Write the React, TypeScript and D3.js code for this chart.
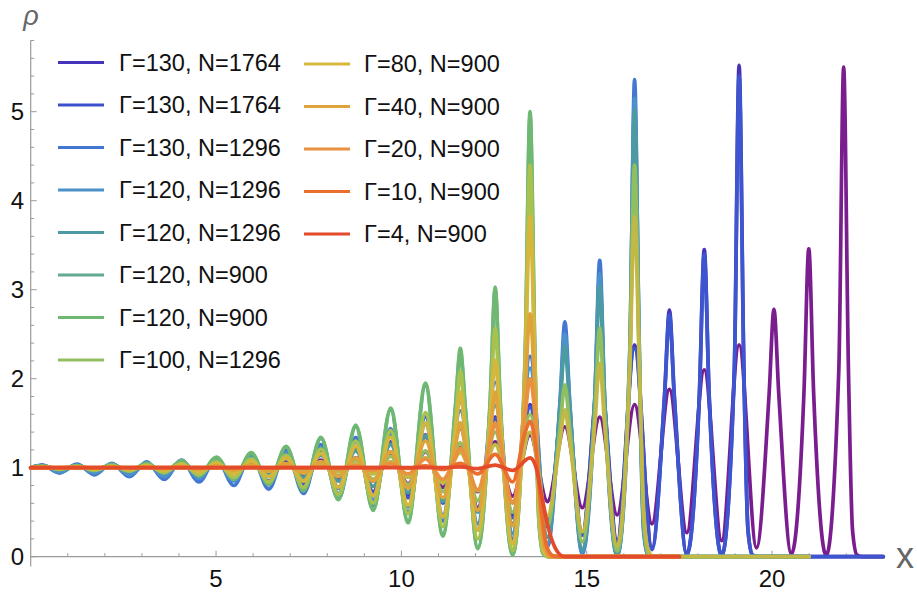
import React from "react";
import * as d3 from "d3";

// ---- shared lattice positions (x of density peaks and troughs) ----
const PEAK_X = [0.31, 1.25, 2.19, 3.13, 4.07, 5.01, 5.95, 6.89, 7.83, 8.77, 9.71, 10.65, 11.59, 12.53, 13.47, 14.41, 15.35, 16.29, 17.23, 18.17, 19.11, 20.05, 20.99, 21.93];
const TROUGH_X = [0.78, 1.72, 2.66, 3.6, 4.54, 5.48, 6.42, 7.36, 8.3, 9.24, 10.18, 11.12, 12.06, 13.0, 13.94, 14.88, 15.82, 16.76, 17.7, 18.64, 19.58, 20.52, 21.46];
const SHOULDER_DX = 0.13;
const START_RHO = 1.0;

// ---- axis ticks ----
const X_MAJOR = [5, 10, 15, 20];
const X_MINOR = [1, 2, 3, 4, 6, 7, 8, 9, 11, 12, 13, 14, 16, 17, 18, 19, 21, 22];
const Y_MAJOR = [0, 1, 2, 3, 4, 5];
const Y_MINOR = [0.2, 0.4, 0.6, 0.8, 1.2, 1.4, 1.6, 1.8, 2.2, 2.4, 2.6, 2.8, 3.2, 3.4, 3.6, 3.8, 4.2, 4.4, 4.6, 4.8, 5.2, 5.4, 5.6, 5.8];

// ---- series (peaks/troughs/shoulders counted back from the edge peak, k = 0 at the edge) ----
type Series = {
  color: string;
  edge: number;
  end: number;
  peaks: number[];
  troughs: number[];
  shoulders: number[];
  tail: [number, number][];
};

const purpleWide: Series = {
  color: "#7A1D8E", edge: 23, end: 23,
  peaks: [5.5, 3.46, 2.78, 2.38, 2.1, 1.88, 1.71, 1.57, 1.46, 1.37, 1.29, 1.23, 1.18, 1.14, 1.11, 1.085, 1.065, 1.05, 1.04, 1.032, 1.026, 1.02, 1.016, 1.012],
  troughs: [0.01, 0.03, 0.1, 0.18, 0.27, 0.37, 0.47, 0.55, 0.62, 0.68, 0.73, 0.78, 0.82, 0.85, 0.88, 0.9, 0.92, 0.94, 0.95, 0.96, 0.97, 0.975, 0.98],
  shoulders: [2.1, 1.85, 1.83],
  tail: [[0.13, 2.1], [0.24, 0.3], [0.36, 0.02], [0.5, 0]],
};
const g130n1764a: Series = {
  color: "#4834B8", edge: 20, end: 23,
  peaks: [5.52, 3.45, 2.77, 2.38, 2.1, 1.88, 1.71, 1.57, 1.46, 1.37, 1.29, 1.23, 1.18, 1.14, 1.11, 1.085, 1.065, 1.05, 1.04, 1.032, 1.026],
  troughs: [0.01, 0.03, 0.1, 0.18, 0.27, 0.37, 0.47, 0.55, 0.62, 0.68, 0.73, 0.78, 0.82, 0.85, 0.88, 0.9, 0.92, 0.94, 0.95, 0.96],
  shoulders: [2.1, 1.85, 1.83],
  tail: [[0.13, 2.1], [0.24, 0.3], [0.36, 0.02], [0.5, 0]],
};
const g130n1764b: Series = {
  color: "#3D56CF", edge: 20, end: 23,
  peaks: [5.4, 3.4, 2.72, 2.34, 2.07, 1.85, 1.68, 1.55, 1.44, 1.35, 1.28, 1.22, 1.17, 1.13, 1.1, 1.08, 1.06, 1.047, 1.037, 1.03, 1.024],
  troughs: [0.01, 0.02, 0.08, 0.15, 0.24, 0.34, 0.44, 0.53, 0.6, 0.66, 0.72, 0.77, 0.81, 0.84, 0.87, 0.9, 0.92, 0.935, 0.95, 0.96],
  shoulders: [2.05, 1.82, 1.8],
  tail: [[0.13, 2.05], [0.24, 0.3], [0.36, 0.02], [0.5, 0]],
};
const g130n1296: Series = {
  color: "#4477D2", edge: 17, end: 21,
  peaks: [5.36, 3.33, 2.64, 2.25, 1.96, 1.74, 1.57, 1.44, 1.34, 1.26, 1.2, 1.15, 1.11, 1.085, 1.065, 1.05, 1.04, 1.03],
  troughs: [0.01, 0.03, 0.11, 0.2, 0.3, 0.4, 0.5, 0.58, 0.65, 0.71, 0.76, 0.8, 0.84, 0.87, 0.9, 0.92, 0.94],
  shoulders: [2.1, 1.8, 1.75],
  tail: [[0.13, 2.1], [0.24, 0.3], [0.36, 0.02], [0.5, 0]],
};
const g120n1296a: Series = {
  color: "#4A92C9", edge: 17, end: 21,
  peaks: [5.15, 3.18, 2.5, 2.12, 1.84, 1.64, 1.49, 1.38, 1.29, 1.22, 1.16, 1.12, 1.09, 1.07, 1.05, 1.04, 1.03, 1.025],
  troughs: [0.01, 0.05, 0.15, 0.26, 0.37, 0.47, 0.56, 0.64, 0.71, 0.77, 0.81, 0.85, 0.88, 0.9, 0.92, 0.94, 0.95],
  shoulders: [2.3, 1.8, 1.72],
  tail: [[0.13, 2.3], [0.24, 0.35], [0.36, 0.03], [0.5, 0]],
};
const g120n1296b: Series = {
  color: "#4D9BA2", edge: 17, end: 21,
  peaks: [5.02, 3.04, 2.36, 1.98, 1.7, 1.5, 1.36, 1.26, 1.19, 1.14, 1.1, 1.07, 1.05, 1.035, 1.025, 1.02, 1.015, 1.012],
  troughs: [0.01, 0.08, 0.22, 0.37, 0.5, 0.62, 0.72, 0.79, 0.85, 0.89, 0.92, 0.94, 0.955, 0.965, 0.975, 0.98, 0.985],
  shoulders: [2.3, 1.8, 1.68],
  tail: [[0.13, 2.3], [0.24, 0.4], [0.36, 0.03], [0.5, 0]],
};
const g120n900a: Series = {
  color: "#62AB92", edge: 14, end: 17.5,
  peaks: [4.95, 3.0, 2.3, 1.92, 1.65, 1.46, 1.33, 1.23, 1.16, 1.11, 1.075, 1.05, 1.035, 1.025, 1.02],
  troughs: [0.02, 0.1, 0.25, 0.4, 0.53, 0.65, 0.75, 0.82, 0.87, 0.91, 0.94, 0.96, 0.97, 0.98],
  shoulders: [2.25, 1.78, 1.68],
  tail: [[0.13, 2.25], [0.24, 0.4], [0.36, 0.03], [0.5, 0]],
};
const g120n900b: Series = {
  color: "#6FB872", edge: 14, end: 17.5,
  peaks: [5.0, 3.03, 2.34, 1.95, 1.67, 1.48, 1.34, 1.24, 1.17, 1.12, 1.08, 1.05, 1.035, 1.025, 1.02],
  troughs: [0.02, 0.09, 0.23, 0.38, 0.52, 0.64, 0.74, 0.81, 0.87, 0.91, 0.94, 0.96, 0.97, 0.98],
  shoulders: [2.3, 1.8, 1.7],
  tail: [[0.13, 2.3], [0.24, 0.4], [0.36, 0.03], [0.5, 0]],
};
const g100n1296: Series = {
  color: "#92BE62", edge: 17, end: 21,
  peaks: [4.4, 2.57, 1.93, 1.6, 1.4, 1.28, 1.19, 1.13, 1.09, 1.06, 1.04, 1.03, 1.02, 1.015, 1.01, 1.008, 1.005, 1.004],
  troughs: [0.06, 0.17, 0.35, 0.5, 0.63, 0.73, 0.81, 0.87, 0.91, 0.94, 0.96, 0.97, 0.98, 0.985, 0.99, 0.993, 0.995],
  shoulders: [2.2, 1.6, 1.45],
  tail: [[0.13, 2.2], [0.24, 0.45], [0.36, 0.05], [0.5, 0]],
};
const g80n1296: Series = {
  color: "#C2B846", edge: 17, end: 21,
  peaks: [3.82, 2.17, 1.65, 1.4, 1.26, 1.17, 1.11, 1.07, 1.045, 1.03, 1.02, 1.013, 1.009, 1.006, 1.004, 1.003, 1.002, 1.0],
  troughs: [0.12, 0.28, 0.46, 0.62, 0.74, 0.83, 0.89, 0.93, 0.955, 0.97, 0.98, 0.987, 0.992, 0.995, 0.997, 0.998, 0.999],
  shoulders: [2.1, 1.5, 1.3],
  tail: [[0.13, 2.1], [0.25, 0.5], [0.38, 0.06], [0.52, 0]],
};
const g100n900: Series = {
  color: "#A9C24F", edge: 14, end: 17.5,
  peaks: [4.4, 2.57, 2.08, 1.62, 1.42, 1.3, 1.21, 1.14, 1.1, 1.065, 1.045, 1.03, 1.02, 1.015, 1.01],
  troughs: [0.07, 0.2, 0.34, 0.48, 0.6, 0.7, 0.78, 0.84, 0.89, 0.92, 0.95, 0.965, 0.975, 0.985],
  shoulders: [2.2, 1.65, 1.5],
  tail: [[0.13, 2.2], [0.24, 0.45], [0.36, 0.05], [0.5, 0]],
};
const g80n900: Series = {
  color: "#D5B73E", edge: 14, end: 17.5,
  peaks: [3.82, 2.21, 1.85, 1.5, 1.34, 1.24, 1.16, 1.11, 1.075, 1.05, 1.035, 1.025, 1.015, 1.01, 1.008],
  troughs: [0.14, 0.3, 0.45, 0.58, 0.69, 0.78, 0.85, 0.9, 0.93, 0.955, 0.97, 0.98, 0.985, 0.99],
  shoulders: [2.1, 1.55, 1.4],
  tail: [[0.13, 2.1], [0.25, 0.5], [0.38, 0.06], [0.52, 0]],
};
const g40n900: Series = {
  color: "#DEA33B", edge: 14, end: 17.5,
  peaks: [2.73, 1.85, 1.5, 1.3, 1.18, 1.11, 1.07, 1.045, 1.03, 1.02, 1.012, 1.008, 1.005, 1.003, 1.002],
  troughs: [0.35, 0.52, 0.66, 0.77, 0.85, 0.9, 0.94, 0.96, 0.975, 0.985, 0.99, 0.993, 0.996, 0.998],
  shoulders: [1.9, 1.4, 1.25],
  tail: [[0.13, 1.85], [0.26, 0.6], [0.4, 0.1], [0.55, 0]],
};
const g20n900: Series = {
  color: "#E8913F", edge: 14, end: 17.5,
  peaks: [2.0, 1.5, 1.22, 1.1, 1.05, 1.025, 1.012, 1.006, 1.003, 1.0, 1.0, 1.0, 1.0, 1.0, 1.0],
  troughs: [0.6, 0.75, 0.87, 0.93, 0.97, 0.985, 0.993, 0.997, 1.0, 1.0, 1.0, 1.0, 1.0, 1.0],
  shoulders: [1.6, 1.3, 1.12],
  tail: [[0.14, 1.55], [0.28, 0.6], [0.42, 0.12], [0.58, 0]],
};
const g10n900: Series = {
  color: "#EA6F2F", edge: 14, end: 17.5,
  peaks: [1.52, 1.15, 1.05, 1.02, 1.008, 1.0, 1.0, 1.0, 1.0, 1.0, 1.0, 1.0, 1.0, 1.0, 1.0],
  troughs: [0.84, 0.93, 0.98, 0.993, 1.0, 1.0, 1.0, 1.0, 1.0, 1.0, 1.0, 1.0, 1.0, 1.0],
  shoulders: [1.4],
  tail: [[0.15, 1.25], [0.3, 0.55], [0.45, 0.12], [0.62, 0.01], [0.75, 0]],
};
const g4n900: Series = {
  color: "#E34B2B", edge: 14, end: 17.5,
  peaks: [1.11, 1.03, 1.01, 1.0, 1.0, 1.0, 1.0, 1.0, 1.0, 1.0, 1.0, 1.0, 1.0, 1.0, 1.0],
  troughs: [0.97, 0.99, 1.0, 1.0, 1.0, 1.0, 1.0, 1.0, 1.0, 1.0, 1.0, 1.0, 1.0, 1.0],
  shoulders: [],
  tail: [[0.15, 1.02], [0.32, 0.67], [0.45, 0.4], [0.58, 0.2], [0.75, 0.05], [0.93, 0]],
};

// drawing order (later on top)
const DRAW_ORDER: Series[] = [
  purpleWide, g130n1764a, g130n1764b, g130n1296, g120n1296a, g120n1296b,
  g120n900a, g120n900b, g100n1296, g80n1296, g100n900, g80n900,
  g40n900, g20n900, g10n900, g4n900,
];

// legend
const LEGEND_LABELS = [
  "Γ=130, N=1764", "Γ=130, N=1764", "Γ=130, N=1296", "Γ=120, N=1296", "Γ=120, N=1296",
  "Γ=120, N=900", "Γ=120, N=900", "Γ=100, N=1296",
  "Γ=80, N=900", "Γ=40, N=900", "Γ=20, N=900", "Γ=10, N=900", "Γ=4, N=900",
];
const LEGEND_COLORS = [
  "#4433BB", "#3D50CC", "#4477D2", "#4A92C9", "#4D9BA2",
  "#62AB92", "#6FB872", "#92BE62",
  "#D5B73E", "#DEA33B", "#E8913F", "#EA6F2F", "#E34B2B",
];

function buildPoints(s: Series): [number, number][] {
  const pts: [number, number][] = [[0, START_RHO]];
  for (let j = 0; j <= s.edge; j++) {
    const k = s.edge - j;
    if (j > 0) pts.push([TROUGH_X[j - 1], s.troughs[k]]);
    const px = PEAK_X[j];
    const sh = s.shoulders[k];
    if (sh !== undefined) pts.push([px - SHOULDER_DX, sh]);
    pts.push([px, s.peaks[k]]);
    if (k > 0 && sh !== undefined) pts.push([px + SHOULDER_DX, sh]);
  }
  const pe = PEAK_X[s.edge];
  for (const [dx, y] of s.tail) pts.push([pe + dx, y]);
  pts.push([s.end, 0]);
  return pts;
}

const W = 917;
const H = 597;

export default function App() {
  const x = d3.scaleLinear().domain([0, 23]).range([30.7, 883.3]);
  const y = d3.scaleLinear().domain([-0.11, 5.8]).range([566.5, 40.5]);
  const line = d3
    .line<[number, number]>()
    .x((d) => x(d[0]))
    .y((d) => y(d[1]))
    .curve(d3.curveMonotoneX);

  const axisColor = "#9a9a9a";
  const font = "'Liberation Sans', Arial, Helvetica, sans-serif";
  const y0 = y(0);
  const x0 = x(0);

  const col1 = LEGEND_LABELS.slice(0, 8);
  const col2 = LEGEND_LABELS.slice(8);

  return (
    <svg
      width={W}
      height={H}
      style={{ position: "absolute", left: 0, top: 0, background: "#fff" }}
      fontFamily={font}
    >
      <rect x={0} y={0} width={W} height={H} fill="#fff" />
      {/* axes */}
      <line x1={x0} x2={x(23)} y1={y0} y2={y0} stroke={axisColor} strokeWidth={1.2} />
      <line x1={x0} x2={x0} y1={y(-0.11)} y2={y(5.8)} stroke={axisColor} strokeWidth={1.2} />
      {X_MAJOR.map((t) => (
        <line key={"xM" + t} x1={x(t)} x2={x(t)} y1={y0} y2={y0 - 6} stroke={axisColor} strokeWidth={1} />
      ))}
      {X_MINOR.map((t) => (
        <line key={"xm" + t} x1={x(t)} x2={x(t)} y1={y0} y2={y0 - 3.5} stroke={axisColor} strokeWidth={1} />
      ))}
      {Y_MAJOR.map((t) => (
        <line key={"yM" + t} x1={x0} x2={x0 + 6} y1={y(t)} y2={y(t)} stroke={axisColor} strokeWidth={1} />
      ))}
      {Y_MINOR.map((t) => (
        <line key={"ym" + t} x1={x0} x2={x0 + 3.5} y1={y(t)} y2={y(t)} stroke={axisColor} strokeWidth={1} />
      ))}
      {X_MAJOR.map((t) => (
        <text key={"xl" + t} x={x(t)} y={587} textAnchor="middle" fontSize={24} fill="#111">
          {t}
        </text>
      ))}
      {Y_MAJOR.map((t) => (
        <text key={"yl" + t} x={24} y={y(t) + 8.5} textAnchor="end" fontSize={24} fill="#111">
          {t}
        </text>
      ))}
      <text x={31} y={25} textAnchor="middle" fontSize={27} fontStyle="italic" fill="#666">
        ρ
      </text>
      <text x={896} y={568} fontSize={36} fill="#666">
        x
      </text>

      {/* curves */}
      <g fill="none" strokeWidth={3.7} strokeLinejoin="round" strokeLinecap="round">
        {DRAW_ORDER.map((s, i) => (
          <path key={"c" + i} d={line(buildPoints(s)) || ""} stroke={s.color} />
        ))}
      </g>

      {/* legend */}
      <g fontSize={23.5} fill="#111">
        {col1.map((lab, i) => {
          const yy = 62.5 + 42.5 * i;
          return (
            <g key={"l1" + i}>
              <line x1={58} x2={104} y1={yy} y2={yy} stroke={LEGEND_COLORS[i]} strokeWidth={3.2} />
              <text x={119} y={yy + 8.3}>{lab}</text>
            </g>
          );
        })}
        {col2.map((lab, i) => {
          const yy = 64 + 42.5 * i;
          return (
            <g key={"l2" + i}>
              <line x1={304} x2={350} y1={yy} y2={yy} stroke={LEGEND_COLORS[8 + i]} strokeWidth={3.2} />
              <text x={364} y={yy + 8.3}>{lab}</text>
            </g>
          );
        })}
      </g>
    </svg>
  );
}
